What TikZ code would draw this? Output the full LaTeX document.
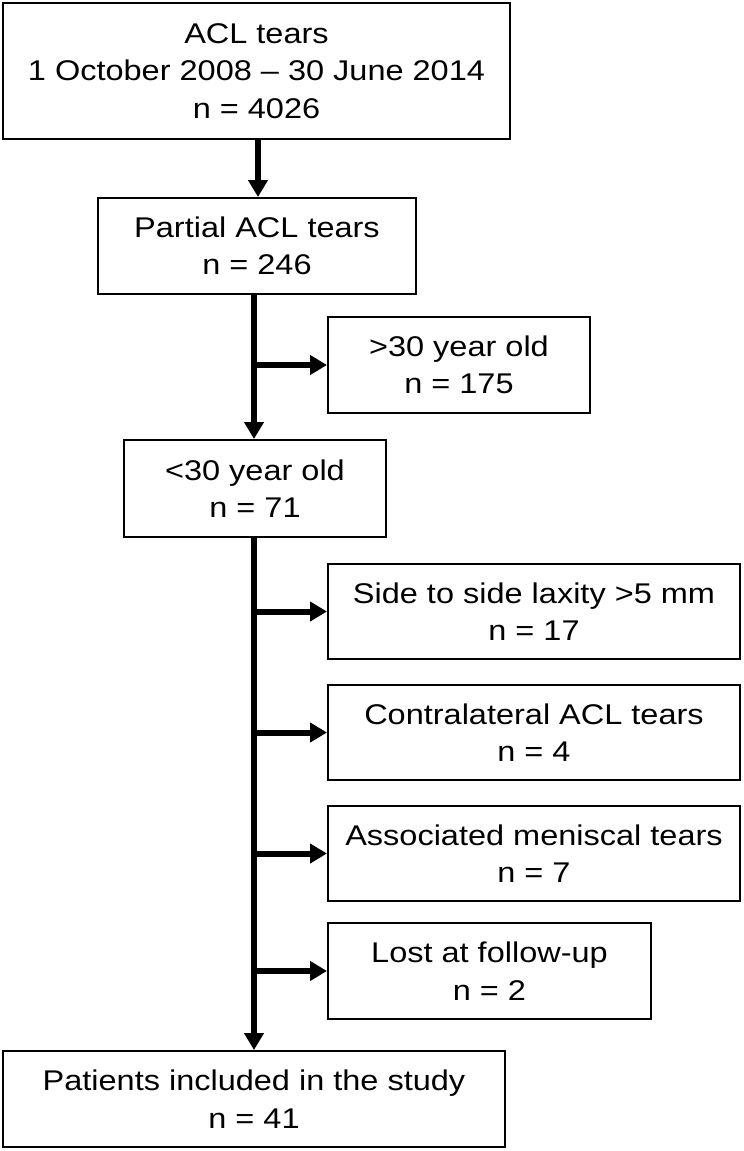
\documentclass[tikz,border=0pt]{standalone}
\usepackage{fontspec}
\setmainfont{Liberation Sans}[FakeStretch=1.14]
\usetikzlibrary{arrows.meta}
\begin{document}
\begin{tikzpicture}[x=1pt,y=-1pt,
  box/.style={draw=black, line width=2pt, inner sep=0pt, align=center,
    font=\fontsize{28.5}{37.5}\selectfont},
  conn/.style={line width=6pt, draw=black},
  arr/.style={conn, -{Triangle[length=17pt,width=19pt]}}]
\useasboundingbox (0,0) rectangle (744,1151);
\fill[white] (0,0) rectangle (744,1151);
\node[box, minimum width=507pt, minimum height=136pt] (b1) at (256.5,71)
  {ACL tears\\1 October 2008 -- 30 June 2014\\n = 4026};
\node[box, minimum width=318pt, minimum height=96pt] (b2) at (257,246)
  {Partial ACL tears\\n = 246};
\node[box, minimum width=262pt, minimum height=96pt] (gt) at (459,365)
  {>30 year old\\n = 175};
\node[box, minimum width=262pt, minimum height=97pt] (b3) at (255,488.5)
  {<30 year old\\n = 71};
\node[box, minimum width=412pt, minimum height=95pt] (lax) at (534,611.5)
  {Side to side laxity >5 mm\\n = 17};
\node[box, minimum width=412pt, minimum height=95pt] (con) at (534,732.5)
  {Contralateral ACL tears\\n = 4};
\node[box, minimum width=412pt, minimum height=95pt] (men) at (534,853.5)
  {Associated meniscal tears\\n = 7};
\node[box, minimum width=323pt, minimum height=96pt] (lost) at (489.5,971)
  {Lost at follow-up\\n = 2};
\node[box, minimum width=502pt, minimum height=96pt] (fin) at (254,1099)
  {Patients included in the study\\n = 41};
\coordinate (t1) at (258,0);
\coordinate (sp) at (254,0);
\draw[arr] (b1.south -| t1) -- (t1 |- b2.north);
\draw[arr] (b2.south -| sp) -- (sp |- b3.north);
\draw[arr] (sp |- gt.west) -- (gt.west);
\draw[arr] (b3.south -| sp) -- (sp |- fin.north);
\draw[arr] (sp |- lax.west) -- (lax.west);
\draw[arr] (sp |- con.west) -- (con.west);
\draw[arr] (sp |- men.west) -- (men.west);
\draw[arr] (sp |- lost.west) -- (lost.west);
\end{tikzpicture}
\end{document}
